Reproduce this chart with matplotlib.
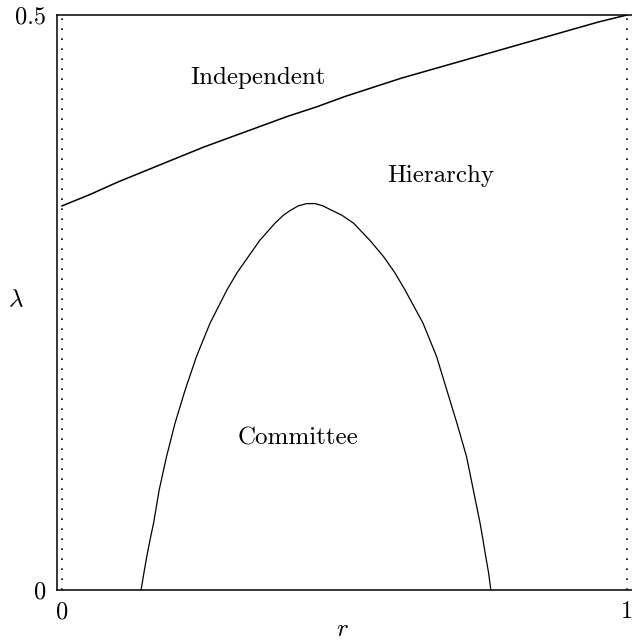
import matplotlib
matplotlib.use('Agg')
import matplotlib.pyplot as plt

plt.rcParams['font.family'] = 'cmr10'
plt.rcParams['mathtext.fontset'] = 'cm'
plt.rcParams['axes.formatter.use_mathtext'] = True

# upper boundary (Independent / Hierarchy)
r_upper = [0.0, 0.05, 0.1, 0.15, 0.2, 0.25, 0.3, 0.35, 0.4, 0.45, 0.5,
           0.55, 0.6, 0.65, 0.7, 0.75, 0.8, 0.85, 0.9, 0.95, 1.0]
lam_upper = [0.334, 0.344, 0.355, 0.365, 0.375, 0.385, 0.394, 0.403, 0.412, 0.420, 0.429,
             0.437, 0.445, 0.452, 0.459, 0.466, 0.473, 0.480, 0.487, 0.494, 0.5]

# lower boundary (Committee region)
r_lower = [0.140, 0.145, 0.150, 0.156, 0.162, 0.172, 0.185, 0.200, 0.218, 0.238, 0.262,
           0.292, 0.310, 0.330, 0.350, 0.377, 0.392, 0.404, 0.418, 0.433, 0.448,
           0.462, 0.474, 0.495, 0.516, 0.545, 0.569, 0.589, 0.607, 0.639, 0.663,
           0.681, 0.699, 0.716, 0.728, 0.740, 0.745, 0.750, 0.755, 0.759]
lam_lower = [0.0, 0.015, 0.029, 0.044, 0.058, 0.087, 0.116, 0.145, 0.174, 0.203, 0.232,
             0.261, 0.276, 0.290, 0.304, 0.319, 0.326, 0.330, 0.334, 0.336, 0.336,
             0.334, 0.331, 0.326, 0.319, 0.304, 0.290, 0.276, 0.261, 0.232, 0.203,
             0.174, 0.145, 0.116, 0.087, 0.058, 0.044, 0.029, 0.015, 0.0]

region_names = ['Independent', 'Hierarchy', 'Committee']
region_r = [0.347, 0.671, 0.418]
region_lam = [0.445, 0.36, 0.132]

fig = plt.figure(figsize=(6.32, 6.44), dpi=100)
ax = fig.add_axes([57/632, 54/644, 575/632, 575/644])

ax.plot(r_upper, lam_upper, color='black', lw=1.1)
ax.plot(r_lower, lam_lower, color='black', lw=0.9)
ax.axvline(0, color='black', ls=(0, (1, 5)), lw=1.2)
ax.axvline(1, color='black', ls=(0, (1, 5)), lw=1.2)

for name, x, y in zip(region_names, region_r, region_lam):
    ax.text(x, y, name, ha='center', va='center', fontsize=18)

ax.set_xlim(-0.00885, 1.00885)
ax.set_ylim(0, 0.5)
ax.set_xticks([0, 1])
ax.set_xticklabels(['0', '1'])
ax.set_yticks([0, 0.5])
ax.set_yticklabels(['0', '0.5'])
ax.tick_params(length=0, labelsize=17.5, pad=8)
ax.spines['right'].set_visible(False)
for s in ['left', 'bottom', 'top']:
    ax.spines[s].set_linewidth(1.1)

ax.set_xlabel(r'$r$', fontsize=18)
ax.xaxis.label.set_va('center')
ax.xaxis.set_label_coords(0.497, -0.07)
ax.set_ylabel(r'$\lambda$', fontsize=18, rotation=0)
ax.yaxis.label.set_va('center')
ax.yaxis.label.set_ha('center')
ax.yaxis.set_label_coords(-0.071, 0.504)

fig.savefig('out.png', dpi=100)
